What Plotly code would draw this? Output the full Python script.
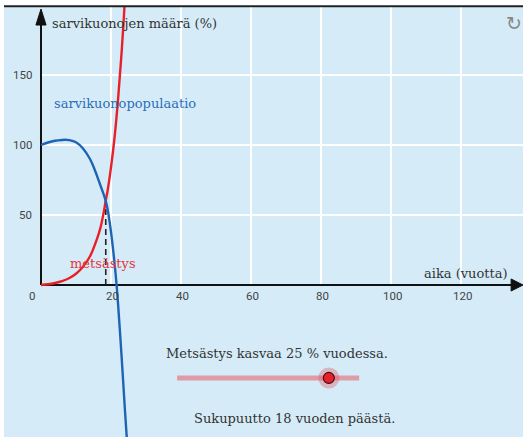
import plotly.graph_objects as go

# ---- data ----
years_pop = [0, 2, 4, 6, 7, 8, 10, 12, 14, 15, 16, 17, 18, 18.5, 19, 20, 21, 21.6, 22, 23, 24, 24.8]
population = [100, 101.8, 103, 103.6, 103.7, 103.5, 102, 97.5, 90, 84.5, 78, 71, 64, 60, 54.5, 38, 16, 0, -13, -50, -90, -120]

years_hunt = [0, 2, 4, 6, 8, 10, 12, 14, 16, 17, 18, 18.5, 19, 20, 21, 22, 23, 24, 24.5]
hunting = [0, 0.5, 1.4, 2.7, 4.8, 8, 13, 20.5, 33, 41, 53, 60.5, 67, 84, 105, 132, 165, 205, 230]

cross_year = 18.5
cross_value = 60.5

x_ticks = [0, 20, 40, 60, 80, 100, 120]
y_ticks = [50, 100, 150]

slider_min, slider_max, slider_value = 0, 30, 25
growth_text = "Metsästys kasvaa 25 % vuodessa."
extinct_text = "Sukupuutto 18 vuoden päästä."

# ---- layout constants ----
X0, X1 = -10.571, 137.714
Y0, Y1 = -108.571, 198.571
BG = "#d5ecf8"
BLUE = "#1f64b4"
RED = "#e8202a"
AX = "#111111"

fig = go.Figure()

shapes = []
# grid (positive quadrant only)
for xv in x_ticks[1:]:
    shapes.append(dict(type="line", x0=xv, x1=xv, y0=0, y1=Y1, line=dict(color="white", width=2), layer="below"))
for yv in y_ticks:
    shapes.append(dict(type="line", x0=0, x1=X1, y0=yv, y1=yv, line=dict(color="white", width=2), layer="below"))
# axes
shapes.append(dict(type="line", x0=0, x1=X1 - 3, y0=0, y1=0, line=dict(color=AX, width=2), layer="below"))
shapes.append(dict(type="line", x0=0, x1=0, y0=0, y1=Y1 - 8, line=dict(color=AX, width=2), layer="below"))
# arrow heads
shapes.append(dict(type="path", path=f"M {X1} 0 L {X1-3.4} 4.3 L {X1-3.4} -4.3 Z",
                   fillcolor=AX, line=dict(color=AX, width=1), layer="below"))
shapes.append(dict(type="path", path=f"M 0 197.1 L 1.45 185.7 L -1.45 185.7 Z",
                   fillcolor=AX, line=dict(color=AX, width=1), layer="below"))
# top border line
shapes.append(dict(type="line", xref="paper", yref="paper", x0=0, x1=1, y0=1.002, y1=1.002,
                   line=dict(color="#222222", width=2)))
fig.update_layout(shapes=shapes)

# dashed intersection line
fig.add_trace(go.Scatter(x=[cross_year, cross_year], y=[0, cross_value], mode="lines",
                         line=dict(color="#222222", width=1.6, dash="6px,4px"), hoverinfo="skip"))
# curves
fig.add_trace(go.Scatter(x=years_hunt, y=hunting, mode="lines", line=dict(color=RED, width=2.4, shape="spline"),
                         hoverinfo="skip"))
fig.add_trace(go.Scatter(x=years_pop, y=population, mode="lines", line=dict(color=BLUE, width=2.4, shape="spline"),
                         hoverinfo="skip"))

# slider
s_x0, s_x1 = 38.9, 90.9
s_y = -66.4
knob_x = s_x0 + (s_x1 - s_x0) * (slider_value - slider_min) / (slider_max - slider_min)
fig.add_trace(go.Scatter(x=[s_x0, s_x1], y=[s_y, s_y], mode="lines",
                         line=dict(color="#df9ca7", width=5), hoverinfo="skip"))
fig.add_trace(go.Scatter(x=[knob_x], y=[s_y], mode="markers",
                         marker=dict(size=21, color="rgba(226,80,95,0.35)", line=dict(width=0)), hoverinfo="skip"))
fig.add_trace(go.Scatter(x=[knob_x], y=[s_y], mode="markers",
                         marker=dict(size=11, color=RED, line=dict(color="#3a1010", width=1.2)), hoverinfo="skip"))

ann = []
tick_font = dict(family="Roboto", size=11.5, color="#444444")
for xv in x_ticks:
    ann.append(dict(x=(xv + 0.5) if xv else -2.6, y=-7.9, text=str(xv), showarrow=False,
                    xanchor="center", yanchor="middle", font=tick_font))
for yv in y_ticks:
    ann.append(dict(x=-1.9, y=yv, text=str(yv), showarrow=False, xanchor="right", yanchor="middle", font=tick_font))

serif = "DejaVu Serif"
ann.append(dict(x=2.57, y=187.1, text="sarvikuonojen määrä (%)", showarrow=False, xanchor="left", yanchor="middle",
                font=dict(family=serif, size=13, color="#333333")))
ann.append(dict(x=134, y=7.9, text="aika (vuotta)", showarrow=False, xanchor="right", yanchor="middle",
                font=dict(family=serif, size=13, color="#333333")))
ann.append(dict(x=3.1, y=130, text="sarvikuonopopulaatio", showarrow=False, xanchor="left", yanchor="middle",
                font=dict(family=serif, size=13, color="#2d6db8")))
ann.append(dict(x=7.7, y=15.7, text="metsästys", showarrow=False, xanchor="left", yanchor="middle",
                font=dict(family=serif, size=13, color="#e8333d")))
ann.append(dict(x=67.4, y=-48.6, text=growth_text, showarrow=False, xanchor="center", yanchor="middle",
                font=dict(family=serif, size=13, color="#333333")))
ann.append(dict(x=72.4, y=-95, text=extinct_text, showarrow=False, xanchor="center", yanchor="middle",
                font=dict(family=serif, size=13, color="#333333")))
ann.append(dict(xref="paper", yref="paper", x=0.982, y=0.962, text="↻", showarrow=False, xanchor="center",
                yanchor="middle", font=dict(family="DejaVu Sans", size=19, color="#888888")))

fig.update_layout(
    width=523, height=437,
    margin=dict(l=4, r=0, t=7, b=0),
    paper_bgcolor="white", plot_bgcolor=BG,
    showlegend=False,
    xaxis=dict(range=[X0, X1], visible=False, fixedrange=True),
    yaxis=dict(range=[Y0, Y1], visible=False, fixedrange=True),
    annotations=ann,
)

fig.write_html("out.html", config={"displayModeBar": False},
               post_script="document.body.style.margin='0px';document.body.style.overflow='hidden';")
